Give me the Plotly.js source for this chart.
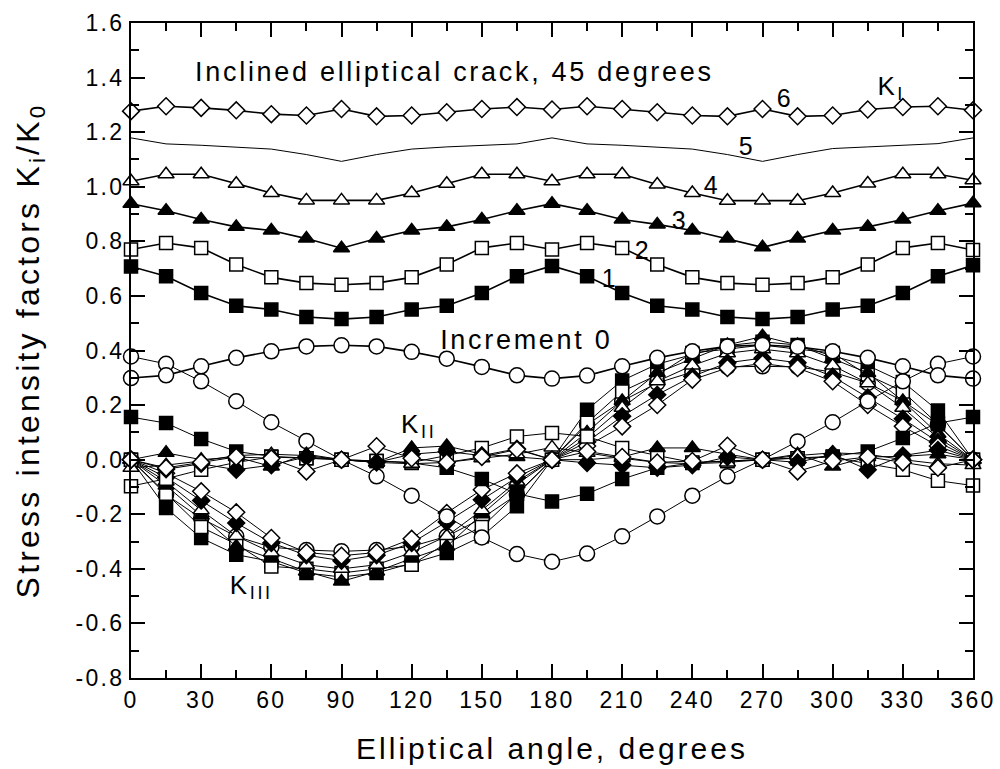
<!DOCTYPE html>
<html>
<head>
<meta charset="utf-8">
<script src="https://cdn.plot.ly/plotly-3.0.1.min.js"></script>
<style>
  html, body { margin: 0; padding: 0; background: #fff; }
  #chart { width: 1000px; height: 769px; }
  .main-svg text { letter-spacing: 0.1em; }
</style>
</head>
<body>
<div id="chart"></div>
<script>
// Elliptical angle (degrees)
const angles = [0,15,30,45,60,75,90,105,120,135,150,165,180,195,210,225,240,255,270,285,300,315,330,345,360];

// K_I / K_0 for crack-growth increments 0..6
const kI_inc0 = [0.299,0.309,0.342,0.373,0.397,0.415,0.419,0.415,0.395,0.370,0.340,0.309,0.297,0.308,0.342,0.373,0.397,0.415,0.420,0.414,0.397,0.373,0.342,0.309,0.297];
const kI_inc1 = [0.708,0.672,0.611,0.564,0.550,0.523,0.515,0.523,0.550,0.564,0.611,0.672,0.710,0.672,0.611,0.564,0.550,0.523,0.515,0.523,0.550,0.564,0.611,0.672,0.712];
const kI_inc2 = [0.770,0.794,0.776,0.715,0.668,0.647,0.641,0.647,0.668,0.715,0.776,0.794,0.770,0.794,0.776,0.715,0.668,0.647,0.641,0.647,0.668,0.715,0.776,0.794,0.768];
const kI_inc3 = [0.938,0.912,0.880,0.853,0.840,0.810,0.775,0.810,0.840,0.853,0.880,0.912,0.938,0.912,0.880,0.862,0.840,0.810,0.778,0.810,0.840,0.853,0.880,0.912,0.940];
const kI_inc4 = [1.020,1.046,1.046,1.011,0.977,0.950,0.950,0.950,0.977,1.011,1.046,1.046,1.020,1.046,1.046,1.008,0.977,0.949,0.950,0.949,0.977,1.012,1.046,1.046,1.024];
const kI_inc5 = [1.179,1.157,1.152,1.146,1.138,1.118,1.093,1.118,1.138,1.146,1.152,1.157,1.179,1.157,1.152,1.146,1.138,1.118,1.093,1.118,1.140,1.146,1.152,1.158,1.179];
const kI_inc6 = [1.277,1.295,1.289,1.280,1.266,1.261,1.285,1.258,1.261,1.273,1.285,1.292,1.283,1.295,1.285,1.273,1.261,1.258,1.285,1.258,1.261,1.283,1.292,1.295,1.280];

// K_II / K_0
const kII_inc0 = [0.378,0.351,0.287,0.214,0.137,0.068,0.000,-0.061,-0.132,-0.208,-0.285,-0.346,-0.374,-0.344,-0.281,-0.208,-0.132,-0.061,0.000,0.067,0.137,0.214,0.287,0.351,0.378];
const kII_inc1 = [0.156,0.134,0.076,0.030,0.012,0.005,0.000,-0.005,-0.012,-0.030,-0.071,-0.125,-0.153,-0.125,-0.071,-0.030,-0.012,-0.005,0.000,0.005,0.012,0.030,0.079,0.134,0.156];
const kII_inc2 = [-0.097,-0.070,-0.037,-0.010,0.010,0.005,0.000,-0.005,-0.010,0.015,0.043,0.085,0.098,0.085,0.043,0.015,-0.010,-0.005,0.000,0.005,0.010,-0.015,-0.037,-0.077,-0.095];
const kII_inc3 = [0.000,0.025,0.000,0.010,-0.025,0.020,0.000,-0.010,0.043,0.050,0.020,0.010,0.000,0.000,0.010,0.043,0.043,0.020,0.000,0.020,-0.025,0.010,0.012,0.020,0.000];
const kII_inc4 = [-0.030,-0.020,-0.005,0.015,0.020,0.015,0.000,-0.010,-0.015,-0.010,0.005,0.020,0.045,0.025,0.005,-0.010,-0.015,-0.010,0.000,0.015,0.025,0.020,0.000,-0.015,-0.020];
const kII_inc5 = [0.000,-0.035,-0.015,-0.037,-0.020,0.010,0.000,-0.010,0.020,0.030,0.015,0.040,0.000,-0.012,-0.020,-0.030,-0.020,0.010,0.000,-0.010,0.020,-0.037,0.015,0.035,0.000];
const kII_inc6 = [0.000,-0.030,-0.010,0.010,0.005,-0.043,0.000,0.049,0.005,-0.010,0.010,0.037,0.000,0.030,0.010,-0.010,-0.005,0.051,0.000,-0.043,-0.005,0.010,-0.010,-0.030,0.000];

// K_III / K_0
const kIII_inc0 = [0.000,-0.128,-0.215,-0.281,-0.321,-0.331,-0.336,-0.331,-0.318,-0.281,-0.215,-0.128,0.000,0.128,0.215,0.281,0.321,0.340,0.342,0.340,0.321,0.281,0.215,0.128,0.000];
const kIII_inc1 = [0.000,-0.177,-0.287,-0.348,-0.373,-0.415,-0.430,-0.415,-0.380,-0.342,-0.281,-0.171,0.000,0.183,0.290,0.350,0.385,0.418,0.432,0.420,0.380,0.345,0.285,0.180,0.000];
const kIII_inc2 = [0.000,-0.125,-0.247,-0.310,-0.391,-0.400,-0.415,-0.400,-0.385,-0.305,-0.247,-0.125,0.000,0.135,0.250,0.310,0.391,0.405,0.420,0.405,0.391,0.310,0.250,0.130,0.000];
const kIII_inc3 = [0.000,-0.095,-0.205,-0.318,-0.362,-0.410,-0.446,-0.410,-0.362,-0.318,-0.200,-0.090,0.000,0.100,0.215,0.318,0.370,0.420,0.452,0.420,0.370,0.318,0.215,0.095,0.000];
const kIII_inc4 = [0.000,-0.080,-0.185,-0.280,-0.340,-0.385,-0.400,-0.385,-0.340,-0.280,-0.185,-0.080,0.000,0.080,0.190,0.287,0.345,0.390,0.405,0.390,0.345,0.280,0.190,0.080,0.000];
const kIII_inc5 = [0.000,-0.065,-0.150,-0.232,-0.305,-0.350,-0.370,-0.350,-0.305,-0.228,-0.147,-0.065,0.000,0.065,0.159,0.238,0.305,0.355,0.372,0.355,0.305,0.228,0.150,0.065,0.000];
const kIII_inc6 = [0.000,-0.050,-0.116,-0.193,-0.287,-0.340,-0.352,-0.340,-0.290,-0.195,-0.110,-0.050,0.000,0.050,0.122,0.200,0.293,0.336,0.352,0.336,0.287,0.200,0.122,0.050,0.000];

// Tick labels
const xTickVals = [0,30,60,90,120,150,180,210,240,270,300,330,360];
const xTickText = ["0","30","60","90","120","150","180","210","240","270","300","330","360"];
const yTickVals = [-0.8,-0.6,-0.4,-0.2,0.0,0.2,0.4,0.6,0.8,1.0,1.2,1.4,1.6];
const yTickText = ["-0.8","-0.6","-0.4","-0.2","0.0","0.2","0.4","0.6","0.8","1.0","1.2","1.4","1.6"];

// Marker styles per increment
const markerStyles = [
  {symbol: 'circle', size: 15, fill: 'white'},
  {symbol: 'square', size: 13, fill: 'black'},
  {symbol: 'square', size: 13, fill: 'white'},
  {symbol: 'triangle-up', size: 14, fill: 'black'},
  {symbol: 'triangle-up', size: 14, fill: 'white'},
  {symbol: 'diamond', size: 13, fill: 'black'},
  {symbol: 'diamond', size: 13, fill: 'white'}
];

const kIISeries = [kII_inc0,kII_inc1,kII_inc2,kII_inc3,kII_inc4,kII_inc5,kII_inc6];
const kIIISeries = [kIII_inc0,kIII_inc1,kIII_inc2,kIII_inc3,kIII_inc4,kIII_inc5,kIII_inc6];
const kISeries = [kI_inc0,kI_inc1,kI_inc2,kI_inc3,kI_inc4,kI_inc5,kI_inc6];

function markerTrace(y, st, lw) {
  return {
    x: angles, y: y, type: 'scatter', mode: 'lines+markers',
    line: {color: 'black', width: lw},
    marker: {symbol: st.symbol, size: st.size, color: st.fill, line: {color: 'black', width: 1.5}},
    hoverinfo: 'skip', showlegend: false, cliponaxis: false
  };
}

const traces = [];
for (let i = 0; i < 7; i++) traces.push(markerTrace(kIIISeries[i], markerStyles[i], 1.0));
for (let i = 0; i < 7; i++) traces.push(markerTrace(kIISeries[i], markerStyles[i], 1.0));
for (let i = 0; i < 7; i++) {
  if (i === 5) {
    traces.push({x: angles, y: kISeries[i], type: 'scatter', mode: 'lines',
      line: {color: 'black', width: 1}, hoverinfo: 'skip', showlegend: false});
  } else {
    traces.push(markerTrace(kISeries[i], markerStyles[i], 1.6));
  }
}

const FONT = 'Liberation Sans, Arial, Helvetica, sans-serif';
const ann = (x, y, text, size) => ({
  x: x, y: y, xref: 'x', yref: 'y', text: text, showarrow: false,
  xanchor: 'center', yanchor: 'middle',
  font: {family: FONT, size: size, color: 'black'}
});

const layout = {
  width: 1000, height: 769,
  paper_bgcolor: 'white', plot_bgcolor: 'white',
  margin: {l: 131, r: 27, t: 23, b: 91},
  showlegend: false,
  font: {family: FONT, color: 'black'},
  xaxis: {
    range: [0, 360], tickmode: 'array', tickvals: xTickVals, ticktext: xTickText,
    ticks: 'inside', ticklen: 14, tickwidth: 2, tickcolor: 'black',
    minor: {tickmode: 'linear', tick0: 0, dtick: 15, ticks: 'inside', ticklen: 8, tickwidth: 2, tickcolor: 'black'},
    showline: true, linewidth: 2, linecolor: 'black', mirror: 'allticks',
    showgrid: false, zeroline: false,
    tickfont: {family: FONT, size: 23, color: 'black'},
    title: {text: 'Elliptical angle, degrees', font: {family: FONT, size: 30, color: 'black'}, standoff: 26}
  },
  yaxis: {
    range: [-0.8, 1.6], tickmode: 'array', tickvals: yTickVals, ticktext: yTickText,
    ticks: 'inside', ticklen: 14, tickwidth: 2, tickcolor: 'black',
    minor: {tickmode: 'linear', tick0: -0.8, dtick: 0.1, ticks: 'inside', ticklen: 8, tickwidth: 2, tickcolor: 'black'},
    showline: true, linewidth: 2, linecolor: 'black', mirror: 'allticks',
    showgrid: false, zeroline: false,
    tickfont: {family: FONT, size: 23, color: 'black'},
    title: {text: 'Stress intensity factors K<sub>i</sub>/K<sub>0</sub>', font: {family: FONT, size: 32, color: 'black'}, standoff: 36}
  },
  annotations: [
    ann(138.1, 1.422, 'Inclined elliptical crack, 45 degrees', 27),
    ann(279.6, 1.327, '6', 25),
    ann(325.0, 1.365, 'K<sub>I</sub>', 26),
    ann(263.2, 1.148, '5', 25),
    ann(248.3, 1.008, '4', 25),
    ann(234.7, 0.879, '3', 25),
    ann(219.0, 0.770, '2', 25),
    ann(204.8, 0.666, '1', 25),
    ann(168.9, 0.440, 'Increment 0', 27),
    ann(123.1, 0.125, 'K<sub>II</sub>', 26),
    ann(51.7, -0.465, 'K<sub>III</sub>', 26)
  ]
};

Plotly.newPlot('chart', traces, layout, {staticPlot: true, displayModeBar: false});
</script>
</body>
</html>
